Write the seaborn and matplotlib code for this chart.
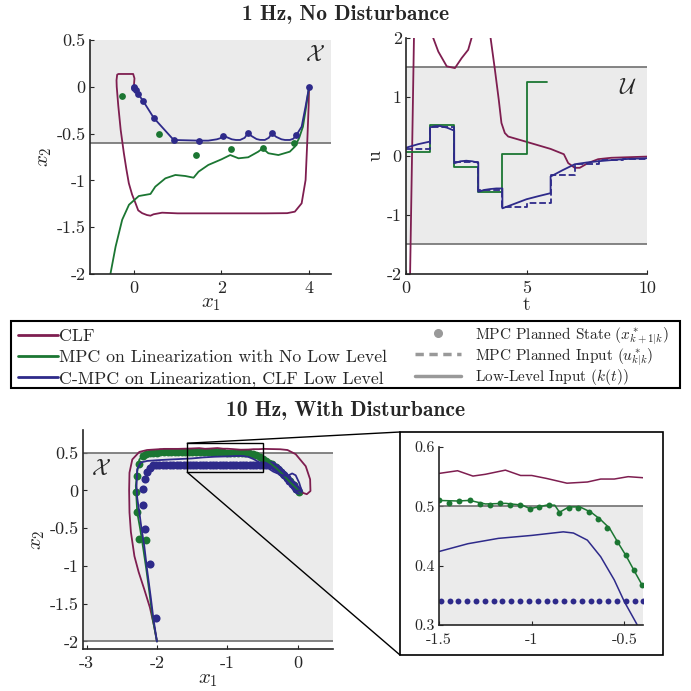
import matplotlib
matplotlib.use("Agg")
import matplotlib.pyplot as plt
import seaborn as sns
from matplotlib.patches import Rectangle, ConnectionPatch
from matplotlib.lines import Line2D

# ---------------- data: 1 Hz, no disturbance (phase plane) ----------------
clf_x1 = [4.0, 3.99, 3.96, 3.92, 3.83, 3.675, 3.5, 3.0, 2.0, 1.0, 0.645, 0.45, 0.38, 0.3, 0.19,
          0.1, 0.04, -0.04, -0.114, -0.17, -0.227, -0.30, -0.355, -0.39, -0.395, -0.38, -0.35,
          -0.015, 0.015, 0.0]
clf_x2 = [0.0, -0.2, -0.568, -0.996, -1.245, -1.334, -1.35, -1.352, -1.352, -1.352, -1.345, -1.362,
          -1.377, -1.37, -1.35, -1.32, -1.245, -1.15, -1.03, -0.88, -0.71, -0.46, -0.2, 0.0, 0.07,
          0.13, 0.137, 0.137, 0.09, 0.0]

mpc_x1 = [4.0, 3.92, 3.86, 3.77, 3.675, 3.56, 3.30, 3.07, 2.94, 2.84, 2.61, 2.39, 2.2, 2.0, 1.70,
          1.477, 1.364, 1.175, 0.948, 0.72, 0.49, 0.38, 0.114, -0.11, -0.265, -0.416, -0.53, -0.56]
mpc_x2 = [0.0, -0.25, -0.426, -0.55, -0.64, -0.693, -0.729, -0.71, -0.657, -0.693, -0.753, -0.764,
          -0.729, -0.775, -0.835, -0.907, -0.971, -0.953, -0.942, -0.978, -1.067, -1.145, -1.167,
          -1.26, -1.42, -1.708, -1.99, -2.1]
mpc_dot_x1 = [3.66, 2.94, 2.21, 1.425, 0.57, -0.27]
mpc_dot_x2 = [-0.597, -0.657, -0.661, -0.729, -0.504, -0.10]

cmpc_x1 = [4.0, 3.92, 3.83, 3.71, 3.64, 3.56, 3.45, 3.37, 3.25, 3.15, 3.08, 2.99, 2.88, 2.8, 2.7,
           2.6, 2.53, 2.425, 2.33, 2.236, 2.13, 2.045, 1.97, 1.895, 1.70, 1.48, 0.91, 0.456, 0.213,
           0.10, 0.04, 0.0]
cmpc_x2 = [0.0, -0.21, -0.426, -0.515, -0.555, -0.568, -0.568, -0.561, -0.535, -0.497, -0.545,
           -0.568, -0.567, -0.558, -0.53, -0.497, -0.545, -0.568, -0.568, -0.561, -0.54, -0.522,
           -0.55, -0.561, -0.575, -0.575, -0.568, -0.333, -0.152, -0.077, -0.034, 0.0]
cmpc_dot_x1 = [4.0, 3.71, 3.15, 2.6, 2.045, 1.48, 0.91, 0.456, 0.213, 0.10, 0.04, 0.015, 0.0]
cmpc_dot_x2 = [0.0, -0.515, -0.497, -0.497, -0.522, -0.575, -0.568, -0.333, -0.152, -0.077, -0.034,
               -0.013, 0.0]

# ---------------- data: 1 Hz inputs ----------------
clf_t = [0.1, 0.17, 0.33, 0.4, 0.9, 1.13, 1.34, 1.69, 2.03, 2.31, 2.58, 2.72, 2.9, 3.3, 3.51, 3.69,
         3.85, 3.96, 4.1, 4.24, 5.0, 6.0, 6.55, 6.73, 7.0, 7.21, 7.55, 7.97, 8.52, 10.0]
clf_u = [-3.0, -2.0, 2.0, 3.0, 3.0, 2.0, 1.77, 1.52, 1.49, 1.66, 1.80, 2.0, 2.5, 2.5, 2.0, 1.46,
         0.95, 0.56, 0.39, 0.33, 0.24, 0.12, 0.03, -0.12, -0.2, -0.2, -0.12, -0.054, -0.03, -0.01]

mpc_t = [0, 1, 2, 3, 4, 5, 5.85]
mpc_u = [0.075, 0.53, -0.18, -0.605, 0.035, 1.25, 1.25]

cmpc_t = [0.0, 0.5, 1.0, 1.0, 1.2, 1.41, 1.7, 2.0, 2.0, 2.25, 2.5, 2.75, 3.0, 3.0, 3.25, 3.5, 3.75,
          4.0, 4.0, 4.5, 5.0, 5.5, 6.0, 6.0, 6.5, 7.0, 7.5, 8.0, 8.5, 9.0, 9.5, 10.0]
cmpc_u = [0.14, 0.2, 0.245, 0.486, 0.505, 0.508, 0.48, 0.43, -0.124, -0.09, -0.08, -0.09, -0.113,
          -0.605, -0.575, -0.56, -0.55, -0.55, -0.887, -0.81, -0.733, -0.68, -0.63, -0.348, -0.24,
          -0.14, -0.11, -0.088, -0.07, -0.054, -0.045, -0.037]
plan_t = [0, 1, 2, 3, 4, 5, 6, 7, 8, 9, 10]
plan_u = [0.12, 0.49, -0.096, -0.576, -0.87, -0.79, -0.33, -0.13, -0.065, -0.05, -0.05]

# ---------------- data: 10 Hz, with disturbance ----------------
d_clf_x1 = [-2.0, -2.04, -2.1, -2.18, -2.26, -2.32, -2.37, -2.39, -2.395, -2.39, -2.35, -2.25, -2.14,
            -1.9, -1.7, -1.51, -1.40, -1.317, -1.25, -1.142, -1.06, -1.0, -0.92, -0.81, -0.70,
            -0.628, -0.555, -0.48, -0.39, -0.25, -0.146, -0.03, 0.113, 0.175, 0.18, 0.128, 0.066, 0.0]
d_clf_x2 = [-2.0, -1.8, -1.55, -1.31, -1.08, -0.87, -0.55, -0.29, 0.0, 0.235, 0.41, 0.51, 0.535,
            0.55, 0.55, 0.555, 0.56, 0.551, 0.554, 0.561, 0.552, 0.552, 0.547, 0.539, 0.541, 0.546,
            0.546, 0.55, 0.548, 0.545, 0.535, 0.48, 0.32, 0.147, -0.008, -0.05, -0.03, 0.0]

d_mpc_x1 = [-2.0, -2.06, -2.1, -2.15, -2.2, -2.24, -2.28, -2.3, -2.28, -2.25, -2.18, -2.0, -1.8,
            -1.51, -1.4, -1.335, -1.25, -1.14, -1.05, -1.01, -0.92, -0.876, -0.85, -0.80, -0.74,
            -0.68, -0.63, -0.58, -0.537, -0.49, -0.445, -0.39, -0.3, -0.2, -0.1, 0.0, 0.05, 0.02]
d_mpc_x2 = [-2.0, -1.7, -1.4, -1.05, -0.735, -0.5, -0.29, 0.06, 0.25, 0.41, 0.48, 0.5, 0.51, 0.51,
            0.509, 0.51, 0.504, 0.505, 0.502, 0.496, 0.502, 0.502, 0.49, 0.499, 0.499, 0.49, 0.478,
            0.463, 0.44, 0.416, 0.39, 0.359, 0.29, 0.2, 0.1, 0.01, -0.03, -0.02]
d_mpc_dot_x1 = [-2.15, -2.25, -2.29, -2.30, -2.28, -2.26, -2.2, -2.15, -2.1, -2.05, -2.0, -1.95,
                -1.9, -1.85, -1.8, -1.75, -1.7, -1.65, -1.6, -1.55, -1.5, -1.445, -1.39, -1.335,
                -1.28, -1.225, -1.17, -1.115, -1.063, -1.01, -0.959, -0.907, -0.852, -0.797, -0.748,
                -0.693, -0.643, -0.592, -0.542, -0.494, -0.45, -0.408, -0.36, -0.31, -0.26, -0.21,
                -0.16, -0.11, -0.06, -0.02, 0.02]
d_mpc_dot_x2 = [-0.65, -0.64, -0.29, -0.016, 0.19, 0.355, 0.455, 0.48, 0.49, 0.5, 0.5, 0.505, 0.505,
                0.51, 0.51, 0.51, 0.51, 0.51, 0.51, 0.51, 0.51, 0.506, 0.509, 0.51, 0.504, 0.503,
                0.505, 0.503, 0.503, 0.496, 0.499, 0.502, 0.489, 0.498, 0.498, 0.491, 0.478, 0.463,
                0.44, 0.418, 0.392, 0.367, 0.345, 0.31, 0.27, 0.22, 0.17, 0.12, 0.07, 0.02, -0.02]

d_cmpc_x1 = [-2.0, -2.05, -2.09, -2.14, -2.18, -2.22, -2.25, -2.28, -2.29, -2.28, -2.23, -2.14,
             -2.0, -1.8, -1.51, -1.344, -1.18, -1.0, -0.83, -0.775, -0.70, -0.628, -0.555, -0.5,
             -0.436, -0.35, -0.25, -0.15, -0.08, -0.03, 0.02, 0.06, 0.0]
d_cmpc_x2 = [-2.0, -1.7, -1.4, -1.05, -0.735, -0.5, -0.29, -0.1, 0.06, 0.28, 0.37, 0.39, 0.40, 0.41,
             0.423, 0.437, 0.446, 0.451, 0.457, 0.455, 0.443, 0.415, 0.376, 0.339, 0.303, 0.25,
             0.21, 0.19, 0.225, 0.2, 0.1, -0.02, 0.0]
d_cmpc_dot_x1 = [-2.02, -2.10, -2.17, -2.2, -2.2, -2.17, -2.14, -2.10, -2.06, -2.02, -1.97, -1.92,
                 -1.87, -1.82, -1.77, -1.72, -1.67, -1.62, -1.58, -1.535, -1.49, -1.443, -1.395,
                 -1.348, -1.30, -1.253, -1.205, -1.158, -1.11, -1.063, -1.015, -0.968, -0.92,
                 -0.873, -0.825, -0.778, -0.73, -0.683, -0.635, -0.588, -0.54, -0.493, -0.445,
                 -0.398, -0.36, -0.32, -0.28, -0.24, -0.2, -0.16, -0.12, -0.08, -0.05, -0.02, 0.0]
d_cmpc_dot_x2 = [-1.69, -0.97, -0.505, -0.19, 0.015, 0.156, 0.24, 0.30, 0.33, 0.34, 0.34, 0.34,
                 0.34, 0.34, 0.34, 0.34, 0.34, 0.34, 0.34, 0.34, 0.34, 0.34, 0.34, 0.34, 0.34, 0.34,
                 0.34, 0.34, 0.34, 0.34, 0.34, 0.34, 0.34, 0.34, 0.34, 0.34, 0.34, 0.34, 0.34, 0.34,
                 0.34, 0.34, 0.34, 0.34, 0.33, 0.31, 0.28, 0.245, 0.21, 0.17, 0.13, 0.09, 0.055,
                 0.02, 0.0]

method_labels = ["CLF", "MPC on Linearization with No Low Level",
                 "C-MPC on Linearization, CLF Low Level"]
marker_labels = [r"MPC Planned State ($x^*_{k+1|k}$)", r"MPC Planned Input ($u^*_{k|k}$)",
                 r"Low-Level Input ($k(t)$)"]

# ---------------- style ----------------
C_CLF = "#7E1E50"
C_MPC = "#1B7632"
C_CMPC = "#2E2A8A"
FILL = "#EBEBEB"
BOUND = "#707070"
SPINE = "#262626"

sns.set_style("ticks")
plt.rcParams.update({
    "font.family": ["cmr10", "DejaVu Serif"],
    "mathtext.fontset": "cm",
    "axes.unicode_minus": False,
    "axes.formatter.use_mathtext": False,
    "xtick.direction": "in",
    "ytick.direction": "in",
})

fig = plt.figure(figsize=(6.91, 6.91), dpi=100)
W = H = 691.0


def px_axes(left, top, right, bottom):
    return fig.add_axes([left / W, 1 - bottom / H, (right - left) / W, (bottom - top) / H])


def style(ax, lab=13):
    sns.despine(ax=ax)
    for s in ("left", "bottom"):
        ax.spines[s].set_color(SPINE)
        ax.spines[s].set_linewidth(1.2)
    ax.tick_params(length=3, width=0.8, color=SPINE, labelsize=lab, pad=3)
    ax.tick_params(axis="x", pad=5)
    ax.set_facecolor("white")


lw = 1.3

# top left: state space
ax1 = px_axes(90, 40, 331, 274)
ax1.axhspan(-0.6, 0.5, color=FILL, zorder=0, lw=0)
ax1.axhline(-0.6, color=BOUND, lw=1.2, zorder=1)
sns.lineplot(x=clf_x1, y=clf_x2, sort=False, estimator=None, color=C_CLF, lw=lw, ax=ax1)
sns.lineplot(x=mpc_x1, y=mpc_x2, sort=False, estimator=None, color=C_MPC, lw=lw, ax=ax1)
sns.lineplot(x=cmpc_x1, y=cmpc_x2, sort=False, estimator=None, color=C_CMPC, lw=lw, ax=ax1)
sns.scatterplot(x=mpc_dot_x1, y=mpc_dot_x2, color=C_MPC, s=24, linewidth=0, ax=ax1, zorder=3)
sns.scatterplot(x=cmpc_dot_x1, y=cmpc_dot_x2, color=C_CMPC, s=24, linewidth=0, ax=ax1, zorder=3)
ax1.set_xlim(-1, 4.5)
ax1.set_ylim(-2, 0.5)
ax1.set_xticks([0, 2, 4])
ax1.set_yticks([0.5, 0, -0.5, -1, -1.5, -2])
ax1.set_yticklabels(["0.5", "0", "-0.5", "-1", "-1.5", "-2"])
ax1.set_xlabel("$x_1$", fontsize=15, labelpad=-1)
ax1.set_ylabel("$x_2$", fontsize=15, labelpad=2)
ax1.text(4.14, 0.34, r"$\mathcal{X}$", fontsize=16, ha="center", va="center")
style(ax1)

# top right: inputs
ax2 = px_axes(406, 38, 647, 274)
ax2.axhspan(-1.5, 1.5, color=FILL, zorder=0, lw=0)
ax2.axhline(1.5, color=BOUND, lw=1.2, zorder=1)
ax2.axhline(-1.5, color=BOUND, lw=1.2, zorder=1)
sns.lineplot(x=clf_t, y=clf_u, sort=False, estimator=None, color=C_CLF, lw=lw, ax=ax2)
sns.lineplot(x=mpc_t, y=mpc_u, sort=False, estimator=None, color=C_MPC, lw=lw,
             drawstyle="steps-post", ax=ax2)
sns.lineplot(x=plan_t, y=plan_u, sort=False, estimator=None, color=C_CMPC, lw=lw,
             drawstyle="steps-post", linestyle="--", ax=ax2)
sns.lineplot(x=cmpc_t, y=cmpc_u, sort=False, estimator=None, color=C_CMPC, lw=lw, ax=ax2)
ax2.set_xlim(0, 10)
ax2.set_ylim(-2, 2)
ax2.set_xticks([0, 5, 10])
ax2.set_yticks([2, 1, 0, -1, -2])
ax2.set_xlabel("t", fontsize=14, labelpad=0)
ax2.set_ylabel("u", fontsize=14, labelpad=2)
ax2.text(9.2, 1.15, r"$\mathcal{U}$", fontsize=16, ha="center", va="center")
style(ax2)

# bottom left: disturbed state space
ax3 = px_axes(83, 430, 333, 649)
ax3.axhspan(-2, 0.5, color=FILL, zorder=0, lw=0)
ax3.axhline(0.5, color=BOUND, lw=1.2, zorder=1)
ax3.axhline(-2, color=BOUND, lw=1.2, zorder=1)
sns.scatterplot(x=d_mpc_dot_x1, y=d_mpc_dot_x2, color=C_MPC, s=32, linewidth=0, ax=ax3, zorder=2)
sns.scatterplot(x=d_cmpc_dot_x1, y=d_cmpc_dot_x2, color=C_CMPC, s=34, linewidth=0, ax=ax3, zorder=2)
sns.lineplot(x=d_clf_x1, y=d_clf_x2, sort=False, estimator=None, color=C_CLF, lw=lw, ax=ax3)
sns.lineplot(x=d_mpc_x1, y=d_mpc_x2, sort=False, estimator=None, color=C_MPC, lw=lw, ax=ax3)
sns.lineplot(x=d_cmpc_x1, y=d_cmpc_x2, sort=False, estimator=None, color=C_CMPC, lw=lw, ax=ax3)
ax3.set_xlim(-3.05, 0.5)
ax3.set_ylim(-2.1, 0.8)
ax3.set_xticks([-3, -2, -1, 0])
ax3.set_yticks([0.5, 0, -0.5, -1, -1.5, -2])
ax3.set_yticklabels(["0.5", "0", "-0.5", "-1", "-1.5", "-2"])
ax3.set_xlabel("$x_1$", fontsize=15, labelpad=0)
ax3.set_ylabel("$x_2$", fontsize=15, labelpad=2)
ax3.text(-2.79, 0.28, r"$\mathcal{X}$", fontsize=16, ha="center", va="center")
style(ax3)
zoom_box = (-1.57, 0.24, 1.07, 0.385)
ax3.add_patch(Rectangle(zoom_box[:2], zoom_box[2], zoom_box[3], fill=False, ec="black",
                        lw=1.0, zorder=5))

# inset frame and zoomed axes
frame_l, frame_t, frame_r, frame_b = 400 / W, 1 - 432 / H, 663 / W, 1 - 655 / H
fig.patches.append(Rectangle((frame_l, frame_b), frame_r - frame_l, frame_t - frame_b,
                             transform=fig.transFigure, fill=False, ec="black", lw=1.2))
ax4 = px_axes(439, 447, 643, 625)
ax4.axhspan(0.3, 0.5, color=FILL, zorder=0, lw=0)
ax4.axhline(0.5, color=BOUND, lw=1.2, zorder=1)
sns.scatterplot(x=d_mpc_dot_x1, y=d_mpc_dot_x2, color=C_MPC, s=18, linewidth=0, ax=ax4, zorder=2)
sns.scatterplot(x=d_cmpc_dot_x1, y=d_cmpc_dot_x2, color=C_CMPC, s=18, linewidth=0, ax=ax4, zorder=2)
sns.lineplot(x=d_clf_x1, y=d_clf_x2, sort=False, estimator=None, color=C_CLF, lw=1.1, ax=ax4)
sns.lineplot(x=d_mpc_x1, y=d_mpc_x2, sort=False, estimator=None, color=C_MPC, lw=1.1, ax=ax4)
sns.lineplot(x=d_cmpc_x1, y=d_cmpc_x2, sort=False, estimator=None, color=C_CMPC, lw=1.1, ax=ax4)
ax4.set_xlim(-1.5, -0.4)
ax4.set_ylim(0.3, 0.6)
ax4.set_xticks([-1.5, -1, -0.5])
ax4.set_xticklabels(["-1.5", "-1", "-0.5"])
ax4.set_yticks([0.3, 0.4, 0.5, 0.6])
style(ax4, lab=11.5)
ax4.tick_params(axis="x", pad=6)

for ya, yb in ((zoom_box[1] + zoom_box[3], frame_t), (zoom_box[1], frame_b)):
    con = ConnectionPatch(xyA=(zoom_box[0], ya), coordsA=ax3.transData,
                          xyB=(frame_l, yb), coordsB=fig.transFigure, color="black", lw=1.0)
    fig.add_artist(con)

# titles
fig.text(0.5, 1 - 15 / H, "1 Hz, No Disturbance", ha="center", va="center",
         family="cmb10", fontsize=15.5)
fig.text(0.5, 1 - 411 / H, "10 Hz, With Disturbance", ha="center", va="center",
         family="cmb10", fontsize=15.5)

# legend: shared frame, two packed columns
leg_l, leg_t, leg_r, leg_b = 11 / W, 1 - 321 / H, 680 / W, 1 - 388 / H
fig.patches.append(Rectangle((leg_l, leg_b), leg_r - leg_l, leg_t - leg_b,
                             transform=fig.transFigure, fill=False, ec="black", lw=1.5))
method_handles = [Line2D([], [], color=C_CLF, lw=2),
                  Line2D([], [], color=C_MPC, lw=2),
                  Line2D([], [], color=C_CMPC, lw=2)]
marker_handles = [Line2D([], [], color="#999999", marker="o", ls="", markersize=5.5),
                  Line2D([], [], color="#999999", ls=(0, (2.4, 1.6)), lw=2.5),
                  Line2D([], [], color="#999999", ls="-", lw=2.5)]
leg1 = fig.legend(method_handles, method_labels, loc="upper left", bbox_to_anchor=(leg_l, leg_t),
                  fontsize=12.8, frameon=False, handlelength=2.2, handletextpad=0.1,
                  labelspacing=0.32, borderpad=0.42, borderaxespad=0)
leg2 = fig.legend(marker_handles, marker_labels, loc="upper right",
                  bbox_to_anchor=(672 / W, leg_t), fontsize=11, frameon=False,
                  handlelength=3.0, handletextpad=0.9, labelspacing=-0.05, borderpad=0.25,
                  borderaxespad=0)

fig.savefig("out.png", dpi=100)
